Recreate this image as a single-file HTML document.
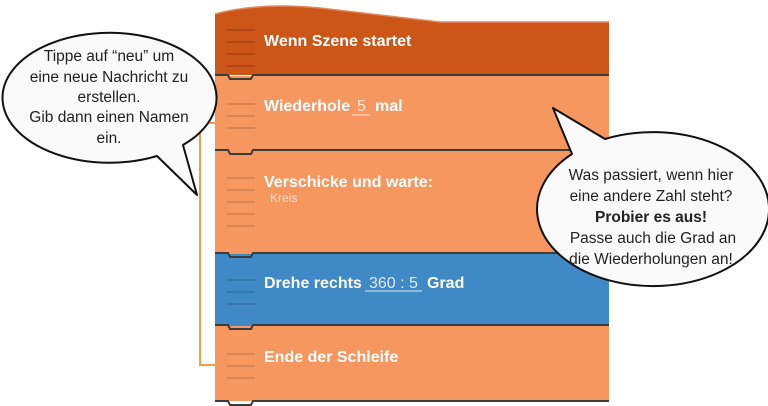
<!DOCTYPE html>
<html><head><meta charset="utf-8"><style>
html,body{margin:0;padding:0;background:#fff;width:768px;height:406px;overflow:hidden}
svg text{font-family:"Liberation Sans",sans-serif}
</style></head><body>
<svg width="768" height="406" viewBox="0 0 768 406" xmlns="http://www.w3.org/2000/svg">
<!-- bracket -->
<path d="M216 123 H200 V365 H216" fill="none" stroke="#f0a040" stroke-width="2"/>
<!-- hat block -->
<path d="M215 14 Q260 2 320 8 Q390 16 440 22 L609 22 V75 H215 Z" fill="#cc5518"/>
<path d="M215 14 Q260 2 320 8 Q390 16 440 22 L609 22" fill="none" stroke="#e08a5a" stroke-width="1.5"/>
<!-- blocks -->
<rect x="215" y="76" width="394" height="75" fill="#f79760"/>
<rect x="215" y="151" width="394" height="103" fill="#f79760"/>
<rect x="215" y="254" width="394" height="72" fill="#3f89c6"/>
<rect x="215" y="326" width="394" height="75" fill="#f79760"/>
<g stroke="#3c3c3c" stroke-width="2" fill="none">
<path d="M215 75 H228 L230 79 H251 L253 75 H609"/>
<path d="M215 150 H228 L230 154 H251 L253 150 H609"/>
<path d="M215 253 H228 L230 257 H251 L253 253 H609"/>
<path d="M215 325 H228 L230 329 H251 L253 325 H609"/>
<path d="M215 401 H228 L230 405 H251 L253 401 H609"/>
</g>
<g stroke-width="2" opacity="0.12" stroke="#000">
<path d="M227 30H255M227 42H255M227 54H255M227 66H255"/>
<path d="M227 104H255M227 116H255M227 128H255"/>
<path d="M227 178H255M227 190H255M227 202H255M227 214H255M227 226H255"/>
<path d="M227 280H255M227 292H255M227 304H255"/>
<path d="M227 354H255M227 366H255M227 378H255"/>
</g>
<g fill="#fff" font-weight="bold" font-size="16">
<text x="264" y="46">Wenn Szene startet</text>
<text x="264" y="111">Wiederhole</text>
<text x="375" y="111">mal</text>
<text x="264" y="187">Verschicke und warte:</text>
<text x="264" y="288">Drehe rechts</text>
<text x="427" y="288">Grad</text>
<text x="264" y="362">Ende der Schleife</text>
</g>
<text x="357" y="111" fill="#fde6d6" font-size="16">5</text>
<text x="369" y="288" fill="#dde8f4" font-size="16">360 : 5</text>
<text x="270" y="202" fill="#fde0cc" font-size="12">Kreis</text>
<line x1="352" y1="115" x2="370" y2="115" stroke="#fde6d6" stroke-width="1"/>
<line x1="365" y1="291" x2="422" y2="291" stroke="#dde8f4" stroke-width="1"/>
<!-- left bubble -->
<path d="M157 156 A107 65 0 1 1 183 145 L197 195 Z" fill="#fafafa" stroke="#111" stroke-width="2" stroke-linejoin="round"/>
<g font-size="15.5" fill="#222" text-anchor="middle">
<text x="109" y="61">Tippe auf “neu” um</text>
<text x="109" y="82">eine neue Nachricht zu</text>
<text x="109" y="102">erstellen.</text>
<text x="109" y="122">Gib dann einen Namen</text>
<text x="109" y="143">ein.</text>
</g>
<!-- right bubble -->
<path d="M572 154 A116 77 0 1 0 605 139 L553 108 Z" fill="#fafafa" stroke="#111" stroke-width="2" stroke-linejoin="round"/>
<g font-size="15.5" fill="#222" text-anchor="middle">
<text x="651" y="180">Was passiert, wenn hier</text>
<text x="651" y="201">eine andere Zahl steht?</text>
<text x="651" y="222" font-weight="bold">Probier es aus!</text>
<text x="653" y="243">Passe auch die Grad an</text>
<text x="651" y="264">die Wiederholungen an!</text>
</g>
</svg>
</body></html>
